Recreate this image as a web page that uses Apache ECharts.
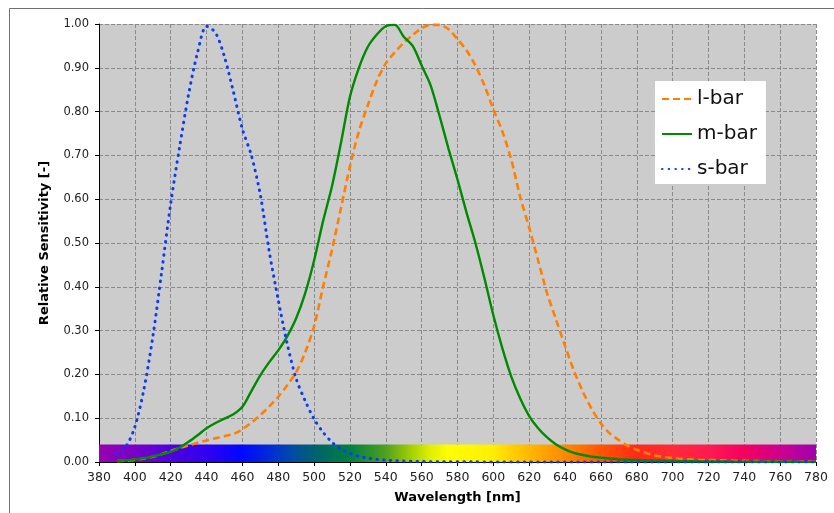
<!DOCTYPE html>
<html><head><meta charset="utf-8">
<script src="https://cdn.jsdelivr.net/npm/echarts@6/dist/echarts.min.js"></script>
<style>html,body{margin:0;padding:0;background:#fff}#c{width:834px;height:513px}</style>
</head><body><div id="c"></div>
<script>
const wavelengths = [390,395,400,405,410,415,420,425,430,435,440,445,450,455,460,465,470,475,480,485,490,495,500,505,510,515,520,525,530,535,540,545,550,555,560,565,570,575,580,585,590,595,600,605,610,615,620,625,630,635,640,645,650,655,660,665,670,675,680,685,690,695,700,705,710,715,720,725,730,735,740,745,750,755,760,765,770,775,780];
const lBar = [0.002,0.003,0.005,0.008,0.012,0.018,0.025,0.032,0.038,0.044,0.049,0.054,0.059,0.064,0.075,0.09,0.107,0.127,0.149,0.175,0.205,0.25,0.31,0.40,0.485,0.58,0.675,0.755,0.815,0.87,0.91,0.935,0.957,0.975,0.99,0.998,0.998,0.988,0.965,0.94,0.905,0.86,0.805,0.755,0.69,0.605,0.535,0.46,0.385,0.325,0.265,0.208,0.16,0.12,0.088,0.065,0.05,0.037,0.028,0.021,0.015,0.012,0.009,0.007,0.006,0.005,0.0045,0.004,0.0035,0.003,0.0026,0.0022,0.0019,0.0016,0.0014,0.0012,0.001,0.0009,0.0008];
const mBar = [0.002,0.004,0.006,0.009,0.013,0.018,0.023,0.033,0.046,0.061,0.077,0.089,0.099,0.109,0.126,0.162,0.198,0.228,0.255,0.287,0.328,0.385,0.46,0.55,0.63,0.729,0.834,0.90,0.948,0.976,0.995,0.998,0.971,0.95,0.905,0.86,0.79,0.715,0.645,0.57,0.5,0.42,0.335,0.26,0.195,0.145,0.105,0.077,0.056,0.04,0.029,0.021,0.016,0.012,0.01,0.008,0.006,0.005,0.0045,0.0038,0.0032,0.0027,0.0023,0.002,0.0017,0.0015,0.0013,0.0011,0.001,0.0009,0.0008,0.0007,0.0006,0.0005,0.0005,0.0004,0.0004,0.0003,0.0003];
const sBar = [0.018,0.035,0.08,0.165,0.285,0.435,0.59,0.72,0.84,0.935,0.995,0.98,0.925,0.845,0.76,0.70,0.61,0.48,0.37,0.27,0.19,0.14,0.098,0.068,0.045,0.03,0.02,0.013,0.009,0.006,0.004,0.003,0.002,0.0015,0.001,0.0008,0.0006,0.0005,0.0004,0.0003,0.0003,0.0002,0.0002,0.0002,0.0001,0.0001,0.0001,0.0001,0.0001,0.0001,0.0001,0.0001,0.0001,0.0001,0.0001,0.0001,0.0001,0.0001,0.0001,0.0001,0.0001,0.0001,0.0001,0.0001,0.0001,0.0001,0.0001,0.0001,0.0001,0.0001,0.0001,0.0001,0.0001,0.0001,0.0001,0.0001,0.0001,0.0001,0.0001];
const seriesNames = ['l-bar','m-bar','s-bar'];
const spectrumStops = [[380,'#9a00b0'],[400,'#7800c8'],[420,'#5000e0'],[440,'#3000f0'],[460,'#0008ff'],[480,'#0038c8'],[490,'#00509a'],[500,'#006070'],[515,'#007a48'],[520,'#008040'],[540,'#50a020'],[555,'#a8d400'],[565,'#e0f000'],[575,'#ffff00'],[600,'#ffee00'],[610,'#ffd000'],[620,'#ffb800'],[640,'#ff8800'],[660,'#ff5500'],[680,'#ff2a1a'],[700,'#ff2a3a'],[720,'#ff1a50'],[740,'#f5005f'],[760,'#cc0090'],[780,'#a000b0']];
const xMin = 380, xMax = 780, bandTop = 0.04;

const pairs = arr => wavelengths.map((w,i)=>[w,arr[i]]);
const font = 'DejaVu Sans';
const chart = echarts.init(document.getElementById('c'), null, {renderer:'canvas'});
chart.setOption({
  animation:false,
  textStyle:{fontFamily:font},
  graphic:[{type:'rect',shape:{x:9.5,y:8.5,width:900,height:600},style:{fill:null,stroke:'#707070',lineWidth:1},z:-10}],
  grid:{left:99,right:18,top:24,bottom:51,show:true,backgroundColor:'#cccccc',borderWidth:0},
  legend:{orient:'vertical',left:655,top:81,backgroundColor:'#ffffff',padding:[8,9,5,6],itemGap:15,itemWidth:30,itemHeight:14,
    itemStyle:{opacity:0},
    textStyle:{fontSize:20,color:'#111',fontFamily:font},data:seriesNames},
  xAxis:{type:'value',min:xMin,max:xMax,interval:20,
    name:'Wavelength [nm]',nameLocation:'middle',nameGap:29,nameTextStyle:{fontWeight:'bold',fontSize:13,color:'#000',fontFamily:font},
    axisLine:{lineStyle:{color:'#000',width:1}},axisTick:{show:true,length:4,lineStyle:{color:'#000'}},
    axisLabel:{fontSize:12.5,color:'#222',margin:9,fontFamily:font},
    splitLine:{show:true,lineStyle:{color:'#8a8a8a',type:[4,2],width:1}}},
  yAxis:{type:'value',min:0,max:1,interval:0.1,
    name:'Relative Sensitivity [-]',nameLocation:'middle',nameGap:48,nameRotate:90,nameTextStyle:{fontWeight:'bold',fontSize:13,color:'#000',fontFamily:font},
    axisLine:{show:true,lineStyle:{color:'#000',width:1}},axisTick:{show:true,length:4,lineStyle:{color:'#000'}},
    axisLabel:{fontSize:11.5,color:'#222',margin:10,formatter:v=>v.toFixed(2),fontFamily:font},
    splitLine:{show:true,lineStyle:{color:'#8a8a8a',type:[4,2],width:1}}},
  series:[
    {name:'band',type:'line',data:[],silent:true,z:1,
      markArea:{silent:true,itemStyle:{color:{type:'linear',x:0,y:0,x2:1,y2:0,
        colorStops:spectrumStops.map(s=>({offset:(s[0]-xMin)/(xMax-xMin),color:s[1]}))}},
        data:[[{coord:[xMin,0]},{coord:[xMax,bandTop]}]]}},
    {name:'l-bar',type:'line',data:pairs(lBar),symbol:'none',smooth:0.3,z:3,
      lineStyle:{color:'#ff8000',width:2.6,type:[7,4]},itemStyle:{color:'#ff8000'}},
    {name:'m-bar',type:'line',data:pairs(mBar),symbol:'none',smooth:0.3,z:3,
      lineStyle:{color:'#008a00',width:2.4},itemStyle:{color:'#008a00'}},
    {name:'s-bar',type:'line',data:pairs(sBar),symbol:'none',smooth:0.3,z:4,
      lineStyle:{color:'#0a3cf5',width:3,type:[0.5,6.2],cap:'round'},itemStyle:{color:'#0a3cf5'}}
  ]
});
</script></body></html>
